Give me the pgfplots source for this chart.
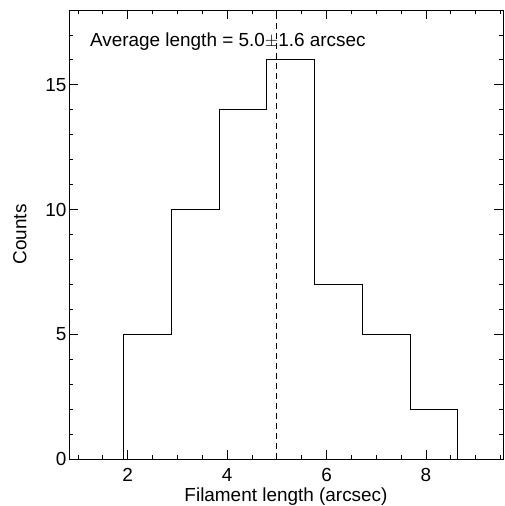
\documentclass[border=0pt]{standalone}
\usepackage{fontspec}
\setmainfont{Liberation Sans}
\usepackage{pgfplots}
\pgfplotsset{compat=1.18}
\begin{document}
\begin{tikzpicture}[font=\fontsize{19}{22}\selectfont]
\begin{axis}[
  scale only axis,
  width=434bp, height=449bp,
  xmin=0.82, xmax=9.55,
  ymin=0, ymax=18,
  xtick={2,4,6,8},
  ytick={0,5,10,15},
  minor xtick={1,1.5,...,9.5},
  minor ytick={0,1,...,18},
  tick pos=both,
  tick align=inside,
  major tick length=9bp,
  minor tick length=4.5bp,
  axis line style={line width=0.8pt},
  tick style={black, line width=0.8pt},
  /pgf/number format/assume math mode=true,
  tick label style={font=\fontsize{19}{22}\selectfont},
  label style={font=\fontsize{19}{22}\selectfont},
  xticklabel style={yshift=-6bp},
  yticklabel style={xshift=1bp},
  xlabel={Filament length (arcsec)},
  ylabel={Counts},
  xlabel style={yshift=1bp},
  ylabel style={yshift=12bp},
  clip=false,
]
\addplot[const plot, line width=0.8pt, black] coordinates {
  (1.44,0) (1.92,5) (2.88,10) (3.84,14) (4.80,16) (5.76,7) (6.72,5) (7.68,2) (8.64,0) (9.55,0)
};
\addplot[black, line width=0.8pt, dash pattern=on 6bp off 4bp] coordinates {(5.0,0) (5.0,18)};
\node[anchor=west, inner sep=0pt, font=\fontsize{19}{22}\selectfont] at (axis cs:1.24,16.75) {Average length = 5.0$\pm$1.6 arcsec};
\coordinate (sw) at (rel axis cs:0,0);
\coordinate (ne) at (rel axis cs:1,1);
\end{axis}
\pgfresetboundingbox
\path (sw) ++(-69bp,-47bp) coordinate (a);
\path (ne) ++(1bp,10bp) coordinate (b);
\useasboundingbox (a) rectangle (b);
\end{tikzpicture}
\end{document}
